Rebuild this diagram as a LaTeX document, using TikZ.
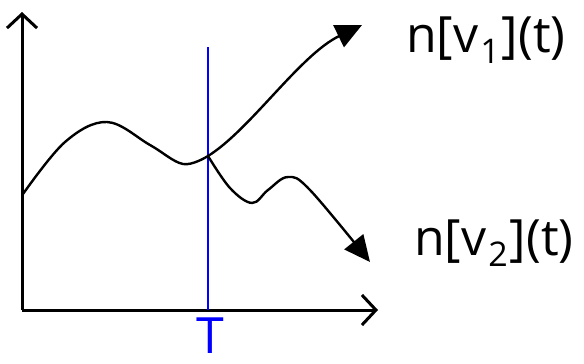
\documentclass[tikz,border=0pt]{standalone}
\usepackage{fontspec}
\setmainfont{Open Sans}
\usetikzlibrary{arrows.meta}

\tikzset{
    axis/.style={line width=3pt, -{Straight Barb[length=14pt,width=30pt,line width=3pt]}},
    signal/.style={line width=2.4pt, line join=round},
    branch/.style={line width=2.4pt, -{Triangle[length=26pt,width=24pt]}},
    lbl/.style={font=\fontsize{50}{58}\selectfont, anchor=base west, inner sep=0pt}
}
\newcommand{\sub}[1]{\kern2pt\raisebox{-0.22em}{\fontsize{34}{34}\selectfont #1}\kern2pt}

\begin{document}
\begin{tikzpicture}[x=1pt,y=-1pt]

\useasboundingbox (0,0) rectangle (584,364);

% axes
\coordinate (o) at (22,310);
\coordinate (ytop) at (22,12);
\coordinate (xend) at (378,310);
\draw[axis] (o) -- (ytop);
\draw[axis] (o) -- (xend);

% time T
\coordinate (ttop) at (208,47);
\coordinate (tbot) at (208,310);
\draw[blue, line width=1.5pt] (ttop) -- (tbot);
\node[blue, font=\fontsize{50}{58}\selectfont, anchor=base, inner sep=0pt] (tlab) at (210,353) {T};

% common history
\coordinate (start) at (23,194);
\coordinate (split) at (208,156);
\draw[signal] plot[smooth, tension=0.6] coordinates
    {(23,194) (65,142) (107,122) (150,145) (183,164) (208,156)};

% branches
\draw[branch] (split) .. controls (250,130) and (300,55) .. (362,25);
\draw[branch] plot[smooth, tension=0.6] coordinates
    {(208,156) (230,188) (252,203) (268,190) (288,177) (310,190) (370,262)};

% labels
\node[lbl] (n1) at (406,52) {n[v\sub{1}](t)};
\node[lbl] (n2) at (414,255) {n[v\sub{2}](t)};

\end{tikzpicture}
\end{document}
